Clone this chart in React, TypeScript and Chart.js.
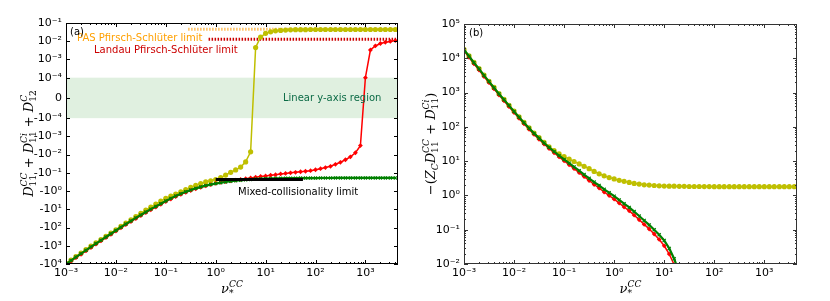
import React, { useEffect, useRef } from "react";
import { Chart, registerables, Scale } from "chart.js";

Chart.register(...registerables);

// ---------------- data ----------------
const nu = [
  0.001, 0.00126, 0.00158, 0.002, 0.00251, 0.00316, 0.00398, 0.00501, 0.00631, 0.00794,
  0.01, 0.0126, 0.0158, 0.02, 0.0251, 0.0316, 0.0398, 0.0501, 0.0631, 0.0794,
  0.1, 0.126, 0.158, 0.2, 0.251, 0.316, 0.398, 0.501, 0.631, 0.794,
  1, 1.26, 1.58, 2, 2.51, 3.16, 3.98, 5.01, 6.31, 7.94,
  10, 12.6, 15.8, 20, 25.1, 31.6, 39.8, 50.1, 63.1, 79.4,
  100, 126, 158, 200, 251, 316, 398, 501, 631, 794,
  1000, 1260, 1580, 2000, 2510, 3160, 3980,
];

const leftYellow = [
  -9330, -6030, -3890, -2510, -1620, -1050, -692, -457, -302, -200,
  -132, -87.1, -57.5, -38.0, -25.1, -16.6, -11.2, -7.59, -5.13, -3.55,
  -2.51, -1.91, -1.45, -1.10, -0.832, -0.631, -0.49, -0.389, -0.316, -0.275,
  -0.234, -0.182, -0.132, -0.093, -0.069, -0.048, -0.025, -0.007, 0.0045, 0.017,
  0.027, 0.033, 0.037, 0.039, 0.041, 0.042, 0.043, 0.043, 0.043, 0.044,
  0.044, 0.044, 0.044, 0.044, 0.044, 0.044, 0.044, 0.044, 0.044, 0.044,
  0.044, 0.044, 0.044, 0.044, 0.044, 0.044, 0.044,
];

const leftRed = [
  -10800, -6970, -4500, -2910, -1920, -1240, -820, -541, -357, -237,
  -157, -103, -69.8, -47.2, -31.9, -22.0, -15.2, -10.6, -7.47, -5.29,
  -3.75, -2.71, -2.0, -1.52, -1.18, -0.93, -0.75, -0.62, -0.52, -0.445,
  -0.380, -0.331, -0.302, -0.275, -0.251, -0.229, -0.209, -0.191, -0.174, -0.158,
  -0.148, -0.135, -0.126, -0.115, -0.107, -0.100, -0.0933, -0.0871, -0.0813, -0.0759,
  -0.0676, -0.0589, -0.0513, -0.0437, -0.0339, -0.0263, -0.0191, -0.0132, -0.0079, -0.0032,
  0.0001, 0.0033, 0.0055, 0.0075, 0.0088, 0.0098, 0.0108,
];

const leftGreen = [
  -10000, -6460, -4170, -2690, -1780, -1150, -759, -501, -331, -219,
  -145, -95.5, -64.6, -43.7, -29.5, -20.4, -14.1, -9.77, -6.92, -4.90,
  -3.47, -2.51, -1.86, -1.41, -1.10, -0.871, -0.708, -0.589, -0.501, -0.437,
  -0.389, -0.347, -0.316, -0.288, -0.269, -0.251, -0.240, -0.229, -0.219, -0.214,
  -0.209, -0.204, -0.200, -0.200, -0.195, -0.195, -0.195, -0.193, -0.193, -0.192,
  -0.192, -0.191, -0.191, -0.191, -0.19, -0.19, -0.19, -0.19, -0.19, -0.19,
  -0.19, -0.19, -0.19, -0.19, -0.19, -0.19, -0.19,
];

const mixedLimitX = [1, 56];
const mixedLimitY = [-0.23, -0.23];
const pasLimitX = [0.28, 4500];
const pasLimitY = [0.045, 0.045];
const landauLimitX = [0.72, 4500];
const landauLimitY = [0.0129, 0.0129];

const rightYellow = [
  18100, 11700, 7560, 5000, 3230, 2130, 1410, 930, 630, 426,
  288, 195, 135, 93.3, 66.3, 48.3, 35.3, 26.3, 20.4, 16.2,
  13.5, 11.5, 9.77, 8.32, 7.08, 6.03, 5.01, 4.27, 3.72, 3.31,
  3.02, 2.75, 2.57, 2.40, 2.24, 2.14, 2.04, 2.0, 1.95, 1.91,
  1.88, 1.86, 1.86, 1.84, 1.84, 1.82, 1.82, 1.82, 1.81, 1.81,
  1.8, 1.8, 1.8, 1.8, 1.8, 1.8, 1.8, 1.8, 1.8, 1.8,
  1.8, 1.8, 1.8, 1.8, 1.8, 1.8, 1.8,
];

const rightRed = [
  16500, 10700, 6890, 4560, 2940, 1940, 1280, 848, 574, 388,
  262, 178, 123, 84.8, 60.1, 43.5, 31.5, 23.3, 17.6, 13.3,
  10.2, 7.84, 6.02, 4.62, 3.54, 2.72, 2.08, 1.64, 1.26, 0.99,
  0.78, 0.60, 0.46, 0.355, 0.266, 0.195, 0.143, 0.105, 0.075, 0.052,
  0.034, 0.0195, 0.0095, 0.0036,
];

const rightGreen = [
  17783, 11482, 7413, 4898, 3162, 2089, 1380, 912, 617, 417,
  282, 191, 132, 91.2, 64.6, 46.8, 33.9, 25.1, 19.1, 14.5,
  11.2, 8.71, 6.76, 5.25, 4.07, 3.16, 2.45, 1.95, 1.51, 1.20,
  0.955, 0.741, 0.575, 0.447, 0.339, 0.251, 0.186, 0.138, 0.100, 0.0715,
  0.0485, 0.0285, 0.0142, 0.0056,
];

const xTickValues = [1e-3, 1e-2, 1e-1, 1, 10, 100, 1000];
const leftYTickValues = [-1e4, -1e3, -1e2, -10, -1, -0.1, -0.01, -1e-3, -1e-4, 0, 1e-4, 1e-3, 1e-2, 1e-1];
const rightYTickValues = [1e-2, 1e-1, 1, 10, 100, 1e3, 1e4, 1e5];

// ---------------- helpers ----------------
const FONT = "DejaVu Sans";
const MATH_FONT = "DejaVu Serif";
const YELLOW = "#bfbf00";
const RED = "#ff0000";
const GREEN = "#008000";

const SUP: Record<string, string> = {
  "-": "\u207B", "0": "\u2070", "1": "\u00B9", "2": "\u00B2", "3": "\u00B3",
  "4": "\u2074", "5": "\u2075", "6": "\u2076", "7": "\u2077", "8": "\u2078", "9": "\u2079",
};
function pow10Label(v: number): string {
  if (v === 0) return "0";
  const e = Math.round(Math.log10(Math.abs(v)));
  return (v < 0 ? "-" : "") + "10" + String(e).split("").map((c) => SUP[c]).join("");
}

const LINTHRESH = 1e-4;
const LINSCALE = 1 / (1 - 0.1);
function symT(v: number): number {
  const a = Math.abs(v);
  if (a <= LINTHRESH) return (v / LINTHRESH) * LINSCALE;
  return Math.sign(v) * (LINSCALE + Math.log10(a / LINTHRESH));
}
function symInv(t: number): number {
  const a = Math.abs(t);
  if (a <= LINSCALE) return (t / LINSCALE) * LINTHRESH;
  return Math.sign(t) * LINTHRESH * Math.pow(10, a - LINSCALE);
}

class SymlogScale extends (Scale as any) {
  static id = "symlog";
  static defaults = {};
  _tmin = 0;
  _tmax = 1;
  determineDataLimits() {
    const { min, max } = (this as any).getMinMax(true);
    const o = (this as any).options;
    (this as any).min = typeof o.min === "number" ? o.min : min;
    (this as any).max = typeof o.max === "number" ? o.max : max;
  }
  buildTicks() {
    return [];
  }
  configure() {
    super.configure();
    this._tmin = symT((this as any).min);
    this._tmax = symT((this as any).max);
  }
  getLabelForValue(v: number) {
    return String(v);
  }
  getPixelForValue(v: number) {
    return (this as any).getPixelForDecimal((symT(v) - this._tmin) / (this._tmax - this._tmin));
  }
  getValueForPixel(p: number) {
    return symInv(this._tmin + (this as any).getDecimalForPixel(p) * (this._tmax - this._tmin));
  }
}
Chart.register(SymlogScale as any);

const pts = (xs: number[], ys: number[]) => ys.map((y, i) => ({ x: xs[i], y }));

type MathItem = { b: string; sub?: string; sup?: string; it?: boolean };

function layoutMath(ctx: CanvasRenderingContext2D, items: MathItem[], size: number, draw: boolean, x0: number, y0: number) {
  let x = x0;
  const ss = size * 0.7;
  for (const it of items) {
    ctx.font = `${it.it ? "italic " : ""}${size}px ${MATH_FONT}`;
    if (draw) ctx.fillText(it.b, x, y0);
    x += ctx.measureText(it.b).width;
    let w = 0;
    if (it.sup) {
      ctx.font = `${/[A-Za-z]/.test(it.sup) ? "italic " : ""}${ss}px ${MATH_FONT}`;
      if (draw) ctx.fillText(it.sup, x, y0 - size * 0.42);
      w = Math.max(w, ctx.measureText(it.sup).width);
    }
    if (it.sub) {
      ctx.font = `${/[A-Za-z]/.test(it.sub) ? "italic " : ""}${ss}px ${MATH_FONT}`;
      if (draw) ctx.fillText(it.sub, x, y0 + size * 0.25);
      w = Math.max(w, ctx.measureText(it.sub).width);
    }
    x += w;
  }
  return x - x0;
}

function drawMath(ctx: CanvasRenderingContext2D, items: MathItem[], size: number, cx: number, cy: number, rotate: boolean) {
  ctx.save();
  ctx.fillStyle = "#000";
  ctx.textBaseline = "alphabetic";
  ctx.textAlign = "left";
  ctx.translate(cx, cy);
  if (rotate) ctx.rotate(-Math.PI / 2);
  const w = layoutMath(ctx, items, size, false, 0, 0);
  layoutMath(ctx, items, size, true, -w / 2, size * 0.35);
  ctx.restore();
}

type TextCfg = { t: string; x: number; y: number; color: string };
type ExtraCfg = {
  band: boolean;
  texts: TextCfg[];
  yTitle: MathItem[];
  yTitleX: number;
  xTitle: MathItem[];
  xTitleY: number;
  panel: string;
  panelX: number;
  panelY: number;
  yMinor: boolean;
  frame: string;
};

function makeExtras(cfg: ExtraCfg) {
  return {
    id: "extras" + cfg.panel.replace(/[()]/g, ""),
    beforeDatasetsDraw(chart: any) {
      if (!cfg.band) return;
      const { left, right } = chart.chartArea;
      const ys = chart.scales.y;
      const a = ys.getPixelForValue(LINTHRESH);
      const b = ys.getPixelForValue(-LINTHRESH);
      const ctx = chart.ctx;
      ctx.save();
      ctx.fillStyle = "rgba(0,128,0,0.12)";
      ctx.fillRect(left, a, right - left, b - a);
      ctx.restore();
    },
    afterDatasetsDraw(chart: any) {
      const ctx = chart.ctx;
      const { left, top } = chart.chartArea;
      ctx.save();
      ctx.font = `10px ${FONT}`;
      ctx.textBaseline = "middle";
      ctx.textAlign = "left";
      for (const t of cfg.texts) {
        ctx.fillStyle = t.color;
        ctx.fillText(t.t, left + t.x, top + t.y);
      }
      ctx.fillStyle = "#000";
      ctx.textBaseline = "top";
      ctx.fillText(cfg.panel, cfg.panelX, cfg.panelY);
      ctx.restore();
    },
    afterDraw(chart: any) {
      const ctx: CanvasRenderingContext2D = chart.ctx;
      const { left, right, top, bottom } = chart.chartArea;
      const xs = chart.scales.x;
      const ys = chart.scales.y;
      ctx.save();
      ctx.strokeStyle = cfg.frame;
      ctx.lineWidth = 1;
      ctx.beginPath();
      const line = (x1: number, y1: number, x2: number, y2: number) => {
        ctx.moveTo(x1, y1);
        ctx.lineTo(x2, y2);
      };
      for (const t of xs.ticks) {
        const p = Math.round(xs.getPixelForValue(t.value)) + 0.5;
        line(p, bottom, p, bottom - 4);
        line(p, top, p, top + 4);
      }
      for (let e = -3; e <= 3; e++) {
        for (let m = 2; m <= 9; m++) {
          const v = m * Math.pow(10, e);
          if (v > xs.max) continue;
          const p = Math.round(xs.getPixelForValue(v)) + 0.5;
          line(p, bottom, p, bottom - 2);
          line(p, top, p, top + 2);
        }
      }
      for (const t of ys.ticks) {
        const p = Math.round(ys.getPixelForValue(t.value)) + 0.5;
        line(left, p, left + 4, p);
        line(right, p, right - 4, p);
      }
      if (cfg.yMinor) {
        for (let e = -2; e <= 4; e++) {
          for (let m = 2; m <= 9; m++) {
            const v = m * Math.pow(10, e);
            const p = Math.round(ys.getPixelForValue(v)) + 0.5;
            line(left, p, left + 2, p);
            line(right, p, right - 2, p);
          }
        }
      }
      ctx.stroke();
      ctx.strokeRect(left + 0.5, top + 0.5, right - left - 1, bottom - top - 1);
      ctx.restore();
      drawMath(ctx, cfg.yTitle, 13, cfg.yTitleX, (top + bottom) / 2, true);
      drawMath(ctx, cfg.xTitle, 13, (left + right) / 2, cfg.xTitleY, false);
    },
  };
}

const tickFont = { family: FONT, size: 11 };

function xAxis() {
  return {
    type: "logarithmic",
    min: 1e-3,
    max: 4500,
    afterBuildTicks: (ax: any) => {
      ax.ticks = xTickValues.map((v) => ({ value: v }));
    },
    afterFit: (s: any) => {
      s.height = 37;
    },
    ticks: { callback: (v: any) => pow10Label(Number(v)), font: tickFont, color: "#000", padding: 3, maxRotation: 0, minRotation: 0, autoSkip: false },
    grid: { display: false, drawTicks: false },
    border: { display: false },
  };
}

function lineDs(label: string, data: any[], color: string, style: string, radius: number, width: number, order: number) {
  return {
    label,
    data,
    borderColor: color,
    backgroundColor: color,
    borderWidth: width,
    pointStyle: style,
    pointRadius: radius,
    pointBorderColor: color,
    pointBackgroundColor: color,
    pointBorderWidth: style === "crossRot" ? 1.2 : 0,
    tension: 0,
    order,
  };
}

function limitDs(label: string, xs: number[], ys: number[], color: string, width: number, dash: number[], order: number) {
  return {
    label,
    data: pts(xs, ys),
    borderColor: color,
    borderWidth: width,
    borderDash: dash,
    pointRadius: 0,
    tension: 0,
    order,
  };
}

const nuTitle: MathItem[] = [{ b: "\u03BD", it: true, sub: "*", sup: "CC" }];

function leftConfig(): any {
  return {
    type: "line",
    data: {
      datasets: [
        limitDs("Mixed-collisionality limit", mixedLimitX, mixedLimitY, "#000", 3, [], 0),
        lineDs("green", pts(nu, leftGreen), GREEN, "crossRot", 2.2, 2.2, 1),
        lineDs("red", pts(nu, leftRed), RED, "rectRot", 2.4, 1.5, 2),
        lineDs("yellow", pts(nu, leftYellow), YELLOW, "circle", 2.6, 1.5, 3),
        limitDs("PAS Pfirsch-Schlüter limit", pasLimitX, pasLimitY, "#ffc060", 3, [1.5, 1.5], 4),
        limitDs("Landau Pfirsch-Schlüter limit", landauLimitX, landauLimitY, "#cc0000", 3, [1.5, 1.5], 5),
      ],
    },
    options: {
      responsive: false,
      animation: false,
      events: [],
      layout: { padding: { left: 0, right: 17, top: 23, bottom: 0 } },
      plugins: { legend: { display: false }, tooltip: { enabled: false } },
      scales: {
        x: xAxis(),
        y: {
          type: "symlog",
          min: -1e4,
          max: 0.1,
          afterBuildTicks: (ax: any) => {
            ax.ticks = leftYTickValues.map((v) => ({ value: v }));
          },
          afterFit: (s: any) => {
            s.width = 66;
          },
          ticks: { callback: (v: any) => pow10Label(Number(v)), font: tickFont, color: "#000", padding: 4, autoSkip: false },
          grid: { display: false, drawTicks: false },
          border: { display: false },
        },
      },
    },
    plugins: [
      makeExtras({
        band: true,
        texts: [
          { t: "PAS Pfirsch-Schlüter limit", x: 11, y: 15, color: "#ffa000" },
          { t: "Landau Pfirsch-Schlüter limit", x: 28, y: 27, color: "#cc0000" },
          { t: "Linear y-axis region", x: 217, y: 75, color: "#0b6b45" },
          { t: "Mixed-collisionality limit", x: 172, y: 169, color: "#000" },
        ],
        yTitle: [
          { b: "D", it: true, sub: "11", sup: "CC" },
          { b: " + " },
          { b: "D", it: true, sub: "11", sup: "Ci" },
          { b: " + " },
          { b: "D", it: true, sub: "12", sup: "C" },
        ],
        yTitleX: 28,
        xTitle: nuTitle,
        xTitleY: 288,
        panel: "(a)",
        panelX: 70,
        panelY: 27,
        yMinor: false,
        frame: "#000",
      }),
    ],
  };
}

function rightConfig(): any {
  return {
    type: "line",
    data: {
      datasets: [
        lineDs("green", pts(nu, rightGreen), GREEN, "crossRot", 2.2, 2.2, 1),
        lineDs("red", pts(nu, rightRed), RED, "rectRot", 2.4, 1.5, 2),
        lineDs("yellow", pts(nu, rightYellow), YELLOW, "circle", 2.6, 1.5, 3),
      ],
    },
    options: {
      responsive: false,
      animation: false,
      events: [],
      layout: { padding: { left: 0, right: 33, top: 24, bottom: 0 } },
      plugins: { legend: { display: false }, tooltip: { enabled: false } },
      scales: {
        x: xAxis(),
        y: {
          type: "logarithmic",
          min: 1e-2,
          max: 1e5,
          afterBuildTicks: (ax: any) => {
            ax.ticks = rightYTickValues.map((v) => ({ value: v }));
          },
          afterFit: (s: any) => {
            s.width = 49;
          },
          ticks: { callback: (v: any) => pow10Label(Number(v)), font: tickFont, color: "#000", padding: 4, autoSkip: false },
          grid: { display: false, drawTicks: false },
          border: { display: false },
        },
      },
    },
    plugins: [
      makeExtras({
        band: false,
        texts: [],
        yTitle: [
          { b: "\u2212(" },
          { b: "Z", it: true, sub: "C" },
          { b: "D", it: true, sub: "11", sup: "CC" },
          { b: " + " },
          { b: "D", it: true, sub: "11", sup: "Ci" },
          { b: ")" },
        ],
        yTitleX: 15,
        xTitle: nuTitle,
        xTitleY: 288,
        panel: "(b)",
        panelX: 54,
        panelY: 28,
        yMinor: true,
        frame: "#333",
      }),
    ],
  };
}

export default function App() {
  const leftRef = useRef<HTMLCanvasElement>(null);
  const rightRef = useRef<HTMLCanvasElement>(null);
  useEffect(() => {
    const c1 = new Chart(leftRef.current as HTMLCanvasElement, leftConfig());
    const c2 = new Chart(rightRef.current as HTMLCanvasElement, rightConfig());
    return () => {
      c1.destroy();
      c2.destroy();
    };
  }, []);
  return (
    <div style={{ position: "fixed", left: 0, top: 0, width: 830, height: 301, background: "#fff" }}>
      <canvas ref={leftRef} width={415} height={301} style={{ position: "absolute", left: 0, top: 0 }} />
      <canvas ref={rightRef} width={415} height={301} style={{ position: "absolute", left: 415, top: 0 }} />
    </div>
  );
}
